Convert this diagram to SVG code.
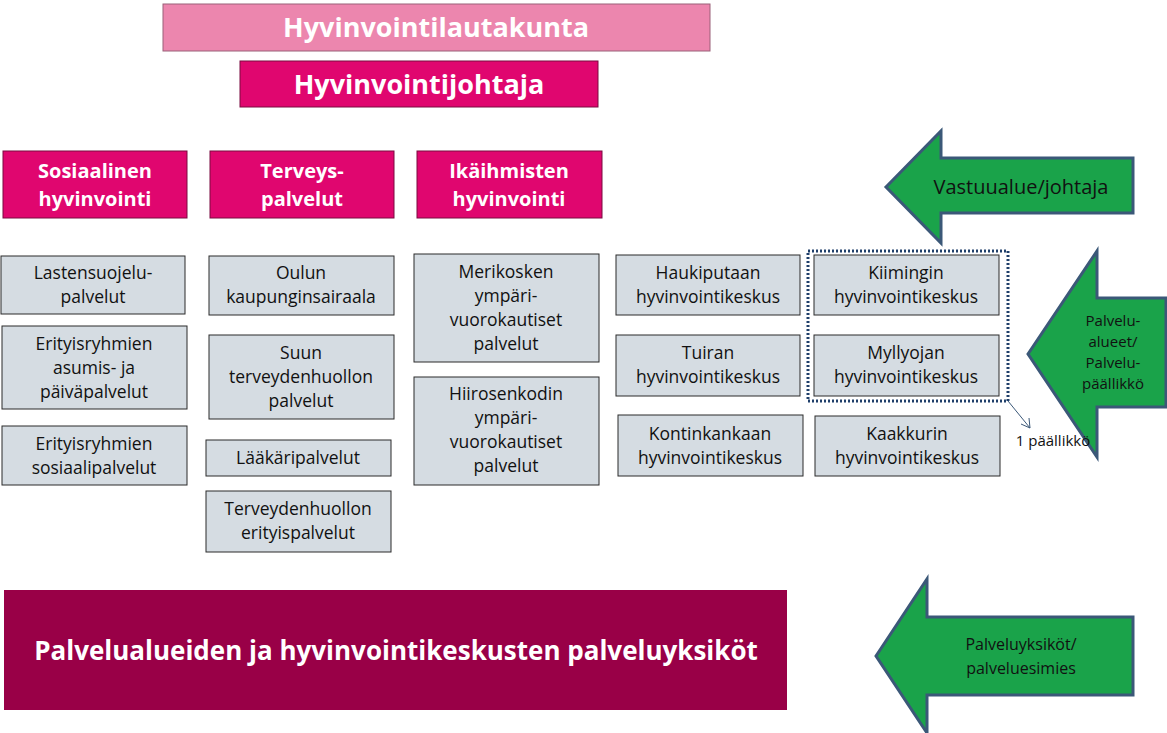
<svg xmlns="http://www.w3.org/2000/svg" width="1167" height="733" viewBox="0 0 1167 733">
<style>
text{font-family:"Open Sans","Noto Sans","Liberation Sans",sans-serif;text-anchor:middle}
.g rect{fill:#d5dce2;stroke:#2b2b2b;stroke-width:1}
.g text{font-size:17.5px;fill:#111}
.m rect{fill:#e0066f;stroke:#7a0a40;stroke-width:1}
.m text{font-size:20px;fill:#fff;font-weight:bold}
.ar polygon{fill:#1aa34a;stroke:#3b5878;stroke-width:3}
.ar text{fill:#111}
</style>
<rect width="1167" height="733" fill="#fff"/>
<g id="lautakunta"><rect x="163" y="4" width="547" height="47" fill="#ec86ae" stroke="#9a6078"/><text x="436" y="37" font-size="27" font-weight="bold" fill="#fff">Hyvinvointilautakunta</text></g>
<g id="johtaja" class="m"><rect x="240" y="61" width="358" height="46"/><text x="419" y="94" style="font-size:27px">Hyvinvointijohtaja</text></g>
<g id="sos" class="m"><rect x="3" y="151" width="184" height="67"/><text x="95" y="178">Sosiaalinen</text><text x="95" y="206">hyvinvointi</text></g>
<g id="terv" class="m"><rect x="210" y="151" width="184" height="67"/><text x="302" y="178">Terveys-</text><text x="302" y="206">palvelut</text></g>
<g id="ika" class="m"><rect x="417" y="151" width="185" height="67"/><text x="509" y="178">Ikäihmisten</text><text x="509" y="206">hyvinvointi</text></g>
<g id="lasten" class="g"><rect x="1" y="256" width="184" height="58"/><text x="93" y="279">Lastensuojelu-</text><text x="93" y="303">palvelut</text></g>
<g id="asumis" class="g"><rect x="2" y="326" width="185" height="83"/><text x="94" y="350">Erityisryhmien</text><text x="94" y="374">asumis- ja</text><text x="94" y="398">päiväpalvelut</text></g>
<g id="sosiaali" class="g"><rect x="2" y="426" width="185" height="59"/><text x="94" y="450">Erityisryhmien</text><text x="94" y="474">sosiaalipalvelut</text></g>
<g id="oulun" class="g"><rect x="209" y="256" width="185" height="59"/><text x="301" y="279">Oulun</text><text x="301" y="303">kaupunginsairaala</text></g>
<g id="suun" class="g"><rect x="209" y="335" width="185" height="84"/><text x="301" y="359">Suun</text><text x="301" y="383">terveydenhuollon</text><text x="301" y="407">palvelut</text></g>
<g id="laak" class="g"><rect x="206" y="440" width="185" height="36"/><text x="298" y="464">Lääkäripalvelut</text></g>
<g id="erit" class="g"><rect x="206" y="491" width="185" height="61"/><text x="298" y="515">Terveydenhuollon</text><text x="298" y="539">erityispalvelut</text></g>
<g id="meri" class="g"><rect x="414" y="254" width="185" height="108"/><text x="506" y="278">Merikosken</text><text x="506" y="302">ympäri-</text><text x="506" y="326">vuorokautiset</text><text x="506" y="350">palvelut</text></g>
<g id="hiiro" class="g"><rect x="414" y="377" width="185" height="108"/><text x="506" y="400">Hiirosenkodin</text><text x="506" y="424">ympäri-</text><text x="506" y="448">vuorokautiset</text><text x="506" y="472">palvelut</text></g>
<g id="hauki" class="g"><rect x="616" y="255" width="184" height="60"/><text x="708" y="279">Haukiputaan</text><text x="708" y="303">hyvinvointikeskus</text></g>
<g id="tuira" class="g"><rect x="616" y="335" width="184" height="61"/><text x="708" y="359">Tuiran</text><text x="708" y="383">hyvinvointikeskus</text></g>
<g id="konti" class="g"><rect x="618" y="415" width="185" height="61"/><text x="710" y="440">Kontinkankaan</text><text x="710" y="464">hyvinvointikeskus</text></g>
<g id="kiim" class="g"><rect x="814" y="255" width="185" height="60"/><text x="906" y="279">Kiimingin</text><text x="906" y="303">hyvinvointikeskus</text></g>
<g id="mylly" class="g"><rect x="814" y="335" width="185" height="61"/><text x="906" y="359">Myllyojan</text><text x="906" y="383">hyvinvointikeskus</text></g>
<g id="kaakk" class="g"><rect x="815" y="416" width="185" height="60"/><text x="907" y="440">Kaakkurin</text><text x="907" y="464">hyvinvointikeskus</text></g>
<g id="group"><rect x="808" y="251" width="200" height="150" fill="none" stroke="#1f3f6a" stroke-width="3" stroke-dasharray="2,2"/></g>
<g id="connectors"><path d="M1008 401 L1030 428 M1021 424 L1030 428 L1029 418" fill="none" stroke="#3b5878" stroke-width="1"/></g>
<g id="yksikot"><rect x="4" y="590" width="783" height="120" fill="#990047"/><text x="396" y="660" font-size="26" fill="#fff" font-weight="bold">Palvelualueiden ja hyvinvointikeskusten palveluyksiköt</text></g>
<g id="arrow1" class="ar"><polygon points="886,187 941,131 941,158 1133,158 1133,213 941,213 941,243"/><text x="1021" y="194" font-size="20">Vastuualue/johtaja</text></g>
<g id="arrow2" class="ar"><polygon points="1028,354 1097,251 1097,298 1166,298 1166,407 1097,407 1097,457"/><text x="1113" y="326" font-size="15">Palvelu-</text><text x="1113" y="347" font-size="15">alueet/</text><text x="1113" y="368" font-size="15">Palvelu-</text><text x="1113" y="389" font-size="15">päällikkö</text></g>
<g id="arrow3" class="ar"><polygon points="876,656 927,579 927,617 1133,617 1133,695 927,695 927,733"/><text x="1021" y="650" font-size="16">Palveluyksiköt/</text><text x="1021" y="674" font-size="16">palveluesimies</text></g>
<text x="1053" y="446" font-size="15" fill="#111">1 päällikkö</text>
</svg>
